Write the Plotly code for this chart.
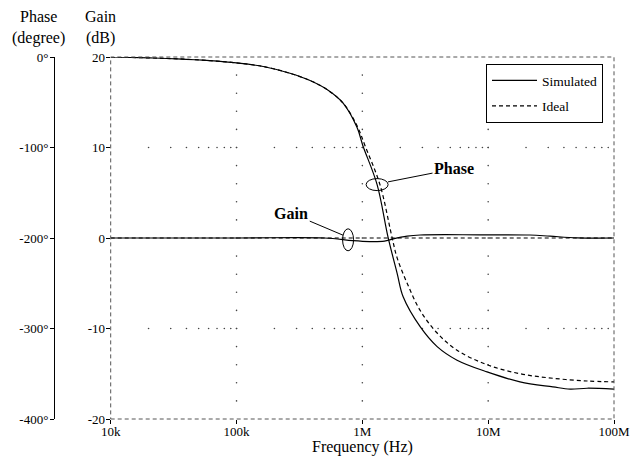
import numpy as np
import plotly.graph_objects as go

# ---------------- data ----------------
freq_phase_sim = [1e4, 2.05e4, 3.37e4, 6.15e4, 1e5, 1.63e5, 2.66e5, 3.84e5, 5.24e5, 7.03e5,
                  9.08e5, 1.01e6, 1.31e6, 1.6e6, 1.89e6, 2.11e6, 2.88e6, 3.93e6, 5.66e6,
                  9.8e6, 1.79e7, 3.27e7, 4.48e7, 6.11e7, 1e8]
phase_sim = [0, -1, -2, -4, -6.5, -10.5, -18, -26, -36, -51,
             -78, -98, -141, -199, -239, -265, -298, -320, -335,
             -348, -359, -364.5, -367, -366, -367]

freq_phase_ideal = [1e4, 2.05e4, 3.37e4, 6.15e4, 1e5, 1.63e5, 2.66e5, 3.84e5, 5.24e5, 7.03e5,
                    9.08e5, 1.05e6, 1.38e6, 1.72e6, 1.89e6, 2.27e6, 2.88e6, 3.93e6, 5.66e6,
                    9.8e6, 1.79e7, 3.27e7, 6.11e7, 1e8]
phase_ideal = [0, -1, -2, -4, -6.5, -10.5, -18, -26, -36, -51,
               -76, -98, -141, -199, -222, -250, -280, -305, -324,
               -340, -350, -355, -358, -359]

freq_gain_sim = [1e4, 1e5, 5e5, 8.4e5, 1.14e6, 1.5e6, 1.76e6, 2.27e6, 2.88e6, 8.6e6,
                 2.15e7, 3.1e7, 5.1e7, 1e8]
gain_sim = [0, 0, 0, -0.3, -0.4, -0.35, -0.1, 0.2, 0.33, 0.35, 0.33, 0.2, 0.02, 0]

freq_gain_ideal = [1e4, 1e8]
gain_ideal = [0, 0]

x_tickvals = [1e4, 1e5, 1e6, 1e7, 1e8]
x_ticktext = ["10k", "100k", "1M", "10M", "100M"]
gain_tickvals = [20, 10, 0, -10, -20]
gain_ticktext = ["20", "10", "0", "-10", "-20"]
phase_tickvals = [0, -100, -200, -300, -400]
phase_ticktext = ["0°", "-100°", "-200°", "-300°", "-400°"]

# ---------------- style ----------------
FONT = "'Liberation Serif', 'Times New Roman', Times, serif"
DASH = "4px,3px"
LW = 1.2

fig = go.Figure()

# grid dots at minor intersections along major grid lines
minor_f = [k * 10 ** e for e in range(4, 8) for k in range(1, 10)] + [1e8]
minor_g = list(range(-18, 20, 2))
gx, gy = [], []
for f in x_tickvals[1:-1]:
    for g in minor_g:
        gx.append(f); gy.append(g)
for g in [10, -10]:
    for f in minor_f[1:-1]:
        gx.append(f); gy.append(g)
fig.add_trace(go.Scatter(x=gx, y=gy, mode="markers", showlegend=False, hoverinfo="skip",
                         marker=dict(size=1.6, color="#444444", line=dict(width=0))))

# gain traces
fig.add_trace(go.Scatter(x=freq_gain_ideal, y=gain_ideal, mode="lines", name="Ideal",
                         legendgroup="b", showlegend=False,
                         line=dict(color="black", width=LW, dash=DASH)))
fig.add_trace(go.Scatter(x=freq_gain_sim, y=gain_sim, mode="lines", name="Simulated",
                         legendgroup="a", showlegend=False, line_shape="spline",
                         line=dict(color="black", width=LW)))
# phase traces
fig.add_trace(go.Scatter(x=freq_phase_sim, y=phase_sim, mode="lines", name="Simulated",
                         legendgroup="a", yaxis="y2", line_shape="spline",
                         line=dict(color="black", width=LW)))
fig.add_trace(go.Scatter(x=freq_phase_ideal, y=phase_ideal, mode="lines", name="Ideal",
                         legendgroup="b", yaxis="y2", line_shape="spline",
                         line=dict(color="black", width=LW, dash=DASH)))

L, R, T, B = 54, 17, 57, 38
W, H = 631, 457
pw = W - L - R
ph = H - T - B
x0_dom = (110.7 - L) / pw
px_per_decade = (W - R - 110.7) / 4.0
px_per_db = ph / 40.0

tickfont = dict(family=FONT, size=13, color="black")

fig.update_layout(
    width=W, height=H,
    margin=dict(l=L, r=R, t=T, b=B, pad=0, autoexpand=False),
    paper_bgcolor="white", plot_bgcolor="white",
    font=dict(family=FONT, size=13, color="black"),
    xaxis=dict(type="log", range=[4, 8], domain=[x0_dom, 1], anchor="y", automargin=False,
               tickvals=x_tickvals, ticktext=x_ticktext, ticks="outside", ticklen=4,
               tickcolor="black", tickfont=tickfont, showgrid=False, zeroline=False,
               showline=False, ticklabelstandoff=-4),
    yaxis=dict(range=[-20, 20], anchor="x", automargin=False,
               tickvals=gain_tickvals, ticktext=gain_ticktext,
               ticks="outside", ticklen=4, tickcolor="black", tickfont=tickfont,
               showgrid=False, zeroline=False, showline=False, ticklabelstandoff=-2),
    yaxis2=dict(range=[-400, 0], overlaying="y", anchor="free", position=0, side="left",
                automargin=False,
                tickvals=phase_tickvals, ticktext=phase_ticktext, ticks="outside", ticklen=4,
                tickcolor="black", tickfont=tickfont, showgrid=False, zeroline=False,
                showline=True, linecolor="black", linewidth=1, ticklabelstandoff=-1),
    xaxis2=dict(type="log", range=[4, 8], domain=[x0_dom, 1], overlaying="x", anchor="y",
                automargin=False,
                tickvals=x_tickvals, ticks="inside", ticklen=3, tickcolor="black",
                showticklabels=False, showgrid=False, zeroline=False, showline=False),
    yaxis3=dict(range=[-20, 20], overlaying="y", anchor="x", tickvals=gain_tickvals,
                automargin=False,
                ticks="inside", ticklen=3, tickcolor="black", showticklabels=False,
                showgrid=False, zeroline=False, showline=False),
    legend=dict(x=(603 - L) / pw, y=(H - B - 64) / ph, xanchor="right", yanchor="top",
                bgcolor="white", bordercolor="black", borderwidth=1,
                font=dict(family=FONT, size=13.5, color="black"),
                tracegroupgap=5, traceorder="grouped", itemwidth=45),
    showlegend=True,
)

# plot border (dashed)
fig.add_shape(type="rect", xref="x domain", yref="y domain", x0=0, x1=1, y0=0, y1=1,
              line=dict(color="#555555", width=1, dash=DASH), layer="above")

# ellipses marking curves (centre frequency / gain, half-sizes in pixels)
def ellipse(fc, gc, rx, ry):
    k = 10 ** (rx / px_per_decade)
    fig.add_shape(type="circle", xref="x", yref="y",
                  x0=fc / k, x1=fc * k, y0=gc - ry / px_per_db, y1=gc + ry / px_per_db,
                  line=dict(color="black", width=1))

ellipse(1.31e6, 5.9, 11, 6)
ellipse(7.7e5, -0.2, 5.5, 11)

# callouts
fig.add_annotation(x=np.log10(1.6e6), y=6.2, xref="x", yref="y", text="<b>Phase</b>",
                   showarrow=True, arrowhead=0, arrowwidth=1, arrowcolor="black",
                   ax=66, ay=-13, font=dict(family=FONT, size=16, color="black"))
fig.add_annotation(x=np.log10(7.05e5), y=0.3, xref="x", yref="y", text="<b>Gain</b>",
                   showarrow=True, arrowhead=0, arrowwidth=1, arrowcolor="black",
                   ax=-52, ay=-22, font=dict(family=FONT, size=16, color="black"))

# axis titles
fig.add_annotation(x=(38.7 - L) / pw, y=(H - B - 27.5) / ph, xref="paper", yref="paper",
                   text="Phase<br>(degree)", showarrow=False, xanchor="center", yanchor="middle",
                   font=dict(family=FONT, size=16, color="black"))
fig.add_annotation(x=(100 - L) / pw, y=(H - B - 27.5) / ph, xref="paper", yref="paper",
                   text="Gain<br>(dB)", showarrow=False, xanchor="center", yanchor="middle",
                   font=dict(family=FONT, size=16, color="black"))
fig.add_annotation(x=0.5, y=-(447 - (H - B)) / ph, xref="x domain", yref="paper",
                   text="Frequency (Hz)", showarrow=False, xanchor="center", yanchor="middle",
                   font=dict(family=FONT, size=16, color="black"))

fig.write_html("out.html")
